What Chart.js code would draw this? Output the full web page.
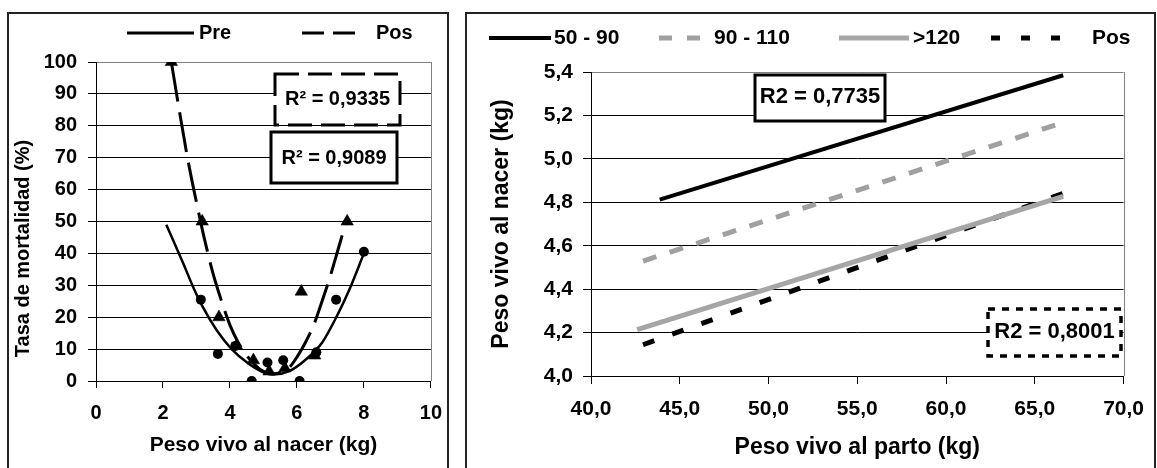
<!DOCTYPE html>
<html><head><meta charset="utf-8">
<script src="https://cdn.jsdelivr.net/npm/chart.js@4.4.1/dist/chart.umd.min.js"></script>
<style>
html,body{margin:0;padding:0;background:#fff;overflow:hidden;width:1157px;height:468px;}
.frame{position:absolute;border:2px solid #222;box-sizing:border-box;}
canvas{position:absolute;top:0;}
</style></head><body>
<div class="frame" style="left:7px;top:12px;width:442px;height:470px;"></div>
<div class="frame" style="left:465px;top:12px;width:691px;height:470px;"></div>
<canvas id="left" width="455" height="468" style="left:0"></canvas>
<canvas id="right" width="699" height="468" style="left:458px"></canvas>
<script>
// ---------- Left chart data ----------
const preX = [3.13, 3.64, 4.16, 4.65, 5.12, 5.59, 6.08, 6.58, 7.17, 8.0];
const preY = [25.5, 8.5, 11, 0, 5.8, 6.5, 0, 9, 25.5, 40.5];
const posX = [2.25, 3.17, 3.67, 4.2, 4.7, 5.17, 5.64, 6.13, 6.53, 7.5];
const posY = [100, 50, 20, 11, 6.5, 3, 4, 28, 8, 50];
const preFitX = [2.1, 2.35, 2.6, 2.9, 3.2, 3.6, 4.05, 4.55, 5.05, 5.3, 5.75, 6.25, 6.75, 7.2, 7.6, 8.0];
const preFitY = [49, 43, 37, 29.5, 23, 16, 10, 5.5, 2.5, 2, 3, 6.6, 12, 20.5, 29.5, 40];
const posFitX = [2.25, 2.5, 2.75, 3.0, 3.25, 3.5, 3.75, 4.0, 4.25, 4.5, 4.75, 5.0, 5.25, 5.5, 5.75, 6.0, 6.25, 6.5, 6.75, 7.0, 7.25, 7.5];
const posFitY = [100, 84, 69, 56, 44, 33.5, 25, 17.5, 12, 8, 5, 3, 2.3, 2.6, 4, 7.5, 12, 17.5, 25, 33, 42, 51];
const leftLabels = ['Pre', 'Pos'];
const leftR2 = ['R\u00B2 = 0,9335', 'R\u00B2 = 0,9089'];
const leftXTicks = [0, 2, 4, 6, 8, 10];
const leftYTicks = [0, 10, 20, 30, 40, 50, 60, 70, 80, 90, 100];

// ---------- Right chart data ----------
const rightLabels = ['50 - 90', '90 - 110', '>120', 'Pos'];
const s5090X = [43.87, 66.6];  const s5090Y = [4.812, 5.385];
const s90110X = [42.93, 66.5]; const s90110Y = [4.529, 5.165];
const s120X = [42.6, 66.6];    const s120Y = [4.214, 4.827];
const sPosX = [42.93, 66.8];   const sPosY = [4.144, 4.847];
const rightR2 = ['R2 = 0,7735', 'R2 = 0,8001'];
const rightXTicks = [40, 45, 50, 55, 60, 65, 70];
const rightYTicks = [4.0, 4.2, 4.4, 4.6, 4.8, 5.0, 5.2, 5.4];

const FAM = '"Liberation Sans", Arial, Helvetica, sans-serif';
const pts = (xs, ys) => xs.map((x, i) => ({x, y: ys[i]}));
const f = s => ({family: FAM, size: s, weight: 'bold'});
const comma = v => Number(v).toFixed(1).replace('.', ',');

Chart.defaults.color = '#000';
Chart.defaults.font.family = FAM;

const decor = {
  id: 'decor',
  beforeDatasetsDraw(chart) {
    const {ctx, chartArea: a} = chart;
    ctx.save();
    ctx.strokeStyle = '#808080'; ctx.lineWidth = 1;
    const xr = Math.round(a.right) + 0.5;
    ctx.beginPath(); ctx.moveTo(xr, a.top); ctx.lineTo(xr, a.bottom); ctx.stroke();
    ctx.restore();
  },
  afterDraw(chart, args, o) {
    const ctx = chart.ctx;
    ctx.save();
    ctx.textBaseline = 'middle';
    (o.legend || []).forEach(it => {
      const ds = chart.data.datasets[it.ds];
      ctx.strokeStyle = ds.borderColor; ctx.lineWidth = it.lw;
      ctx.setLineDash(it.dash || []);
      ctx.beginPath(); ctx.moveTo(it.x0, o.legendY); ctx.lineTo(it.x1, o.legendY); ctx.stroke();
      ctx.setLineDash([]);
      ctx.fillStyle = '#000'; ctx.font = o.legendFont; ctx.textAlign = 'left';
      ctx.fillText(ds.label, it.tx, o.legendY);
    });
    (o.boxes || []).forEach(b => {
      ctx.fillStyle = '#fff';
      ctx.fillRect(b.x0, b.y0, b.x1 - b.x0, b.y1 - b.y0);
      ctx.strokeStyle = '#000'; ctx.lineWidth = b.lw;
      ctx.setLineDash(b.dash || []);
      ctx.strokeRect(b.x0, b.y0, b.x1 - b.x0, b.y1 - b.y0);
      ctx.setLineDash([]);
      ctx.fillStyle = '#000'; ctx.font = o.boxFont; ctx.textAlign = 'center';
      ctx.fillText(b.text, (b.x0 + b.x1) / 2, b.cy);
    });
    if (o.yTitle) {
      ctx.save();
      ctx.translate(o.yTitle.x, o.yTitle.y); ctx.rotate(-Math.PI / 2);
      ctx.font = o.yTitle.font; ctx.textAlign = 'center'; ctx.fillStyle = '#000';
      ctx.fillText(o.yTitle.text, 0, 0);
      ctx.restore();
    }
    ctx.restore();
  }
};

// ---------- Left chart ----------
new Chart(document.getElementById('left'), {
  type: 'scatter',
  data: {
    datasets: [
      {label: 'Pre pts', data: pts(preX, preY), pointStyle: 'circle', pointRadius: 5,
       backgroundColor: '#000', borderColor: '#000', borderWidth: 0, showLine: false},
      {label: 'Pos pts', data: pts(posX, posY), pointStyle: 'triangle', pointRadius: 7.2,
       backgroundColor: '#000', borderColor: '#000', borderWidth: 0.5, showLine: false},
      {label: leftLabels[0], data: pts(preFitX, preFitY), showLine: true, pointRadius: 0,
       borderColor: '#000', borderWidth: 2.5, cubicInterpolationMode: 'monotone', fill: false},
      {label: leftLabels[1], data: pts(posFitX, posFitY), showLine: true, pointRadius: 0,
       borderColor: '#000', borderWidth: 3, borderDash: [40, 11], cubicInterpolationMode: 'monotone', fill: false}
    ]
  },
  options: {
    responsive: false, animation: false, devicePixelRatio: 1,
    layout: {padding: {left: 0, right: 21, top: 62, bottom: 0}},
    plugins: {
      legend: {display: false}, tooltip: {enabled: false},
      decor: {
        legendY: 33, legendFont: 'bold 20px ' + FAM,
        legend: [
          {ds: 2, x0: 127, x1: 194, tx: 199, lw: 3},
          {ds: 3, x0: 302, x1: 363, tx: 376, lw: 3, dash: [22, 9]}
        ],
        boxFont: 'bold 20px ' + FAM,
        boxes: [
          {x0: 275, y0: 74, x1: 400, y1: 125, cy: 99, lw: 3, dash: [24, 9], text: leftR2[0]},
          {x0: 271, y0: 132, x1: 397, y1: 183, cy: 158, lw: 3, text: leftR2[1]}
        ],
        yTitle: {x: 23.5, y: 248.5, text: 'Tasa de mortalidad (%)', font: 'bold 20px ' + FAM}
      }
    },
    scales: {
      x: {
        type: 'linear', min: 0, max: 10,
        afterBuildTicks: s => { s.ticks = leftXTicks.map(v => ({value: v})); },
        afterFit: s => { s.height = 87; },
        ticks: {padding: 13, font: f(20), color: '#000'},
        grid: {drawOnChartArea: false, drawTicks: true, tickLength: 7, color: '#000', tickColor: '#000'},
        border: {color: '#000', width: 1},
        title: {display: true, text: 'Peso vivo al nacer (kg)', font: f(21), color: '#000', padding: {top: 0, bottom: 10}}
      },
      y: {
        type: 'linear', min: 0, max: 100,
        afterBuildTicks: s => { s.ticks = leftYTicks.map(v => ({value: v})); },
        afterFit: s => { s.width = 96; },
        ticks: {padding: 11, font: f(20), color: '#000'},
        grid: {color: c => (c.tick && c.tick.value === 100 ? '#808080' : '#000'), tickColor: '#000', tickLength: 8, lineWidth: 1},
        border: {color: '#000', width: 1}
      }
    }
  },
  plugins: [decor]
});

// ---------- Right chart ----------
new Chart(document.getElementById('right'), {
  type: 'scatter',
  data: {
    datasets: [
      {label: rightLabels[0], data: pts(s5090X, s5090Y), showLine: true, pointRadius: 0,
       borderColor: '#000', borderWidth: 4},
      {label: rightLabels[1], data: pts(s90110X, s90110Y), showLine: true, pointRadius: 0,
       borderColor: '#a0a0a0', borderWidth: 5, borderDash: [14, 14]},
      {label: rightLabels[2], data: pts(s120X, s120Y), showLine: true, pointRadius: 0,
       borderColor: '#a6a6a6', borderWidth: 5},
      {label: rightLabels[3], data: pts(sPosX, sPosY), showLine: true, pointRadius: 0,
       borderColor: '#000', borderWidth: 5, borderDash: [12, 19]}
    ]
  },
  options: {
    responsive: false, animation: false, devicePixelRatio: 1,
    layout: {padding: {left: 0, right: 24, top: 72, bottom: 0}},
    plugins: {
      legend: {display: false}, tooltip: {enabled: false},
      decor: {
        legendY: 38, legendFont: 'bold 21px ' + FAM,
        legend: [
          {ds: 0, x0: 31, x1: 93, tx: 96, lw: 4},
          {ds: 1, x0: 201, x1: 254, tx: 256, lw: 5, dash: [13, 15]},
          {ds: 2, x0: 381, x1: 451, tx: 455, lw: 5},
          {ds: 3, x0: 533, x1: 622, tx: 634, lw: 5, dash: [9, 21]}
        ],
        boxFont: 'bold 22px ' + FAM,
        boxes: [
          {x0: 297, y0: 75, x1: 427, y1: 121, cy: 97, lw: 3, text: rightR2[0]},
          {x0: 530, y0: 309, x1: 663, y1: 356, cy: 332, lw: 3.5, dash: [7, 7], text: rightR2[1]}
        ]
      }
    },
    scales: {
      x: {
        type: 'linear', min: 40, max: 70,
        afterBuildTicks: s => { s.ticks = rightXTicks.map(v => ({value: v})); },
        afterFit: s => { s.height = 92; },
        ticks: {padding: 13, font: f(21), color: '#000', callback: comma},
        grid: {drawOnChartArea: false, drawTicks: true, tickLength: 8, color: '#000', tickColor: '#000'},
        border: {color: '#000', width: 1},
        title: {display: true, text: 'Peso vivo al parto (kg)', font: f(23), color: '#000', padding: {top: 0, bottom: 7}}
      },
      y: {
        type: 'linear', min: 4.0, max: 5.4,
        afterBuildTicks: s => { s.ticks = rightYTicks.map(v => ({value: v})); },
        afterFit: s => { s.width = 133; },
        ticks: {padding: 10, font: f(21), color: '#000', callback: comma},
        grid: {color: c => (c.tick && Math.abs(c.tick.value - 5.4) < 1e-6 ? '#808080' : '#000'), tickColor: '#000', tickLength: 8, lineWidth: 1},
        border: {color: '#000', width: 1},
        title: {display: true, text: 'Peso vivo al nacer (kg)', font: f(23), color: '#000', padding: {top: 30, bottom: 0}}
      }
    }
  },
  plugins: [decor]
});
</script>
</body></html>
